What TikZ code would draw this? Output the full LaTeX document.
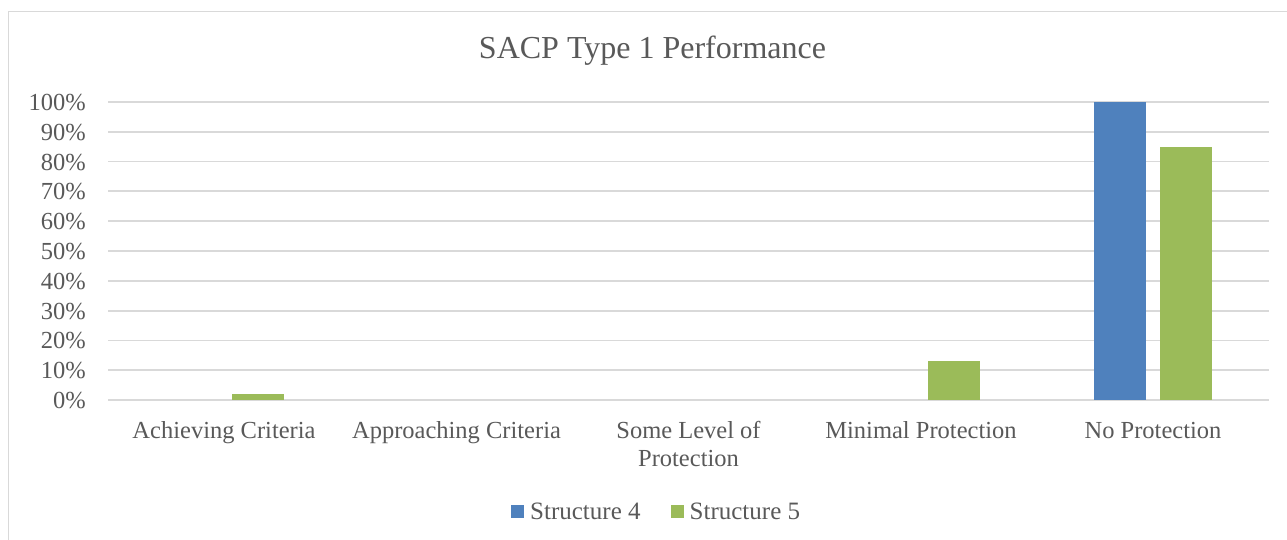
\documentclass[tikz,border=0pt]{standalone}
\usepackage{fontspec}
\setmainfont{Liberation Serif}
\definecolor{txt}{HTML}{595959}
\definecolor{grid}{HTML}{D9D9D9}
\definecolor{sfour}{HTML}{4F81BD}
\definecolor{sfive}{HTML}{9BBB59}
\begin{document}
\begin{tikzpicture}[x=1pt,y=-1pt,
  lbl/.style={text=txt,font=\fontsize{24.5}{28}\selectfont,inner sep=0pt},
  ylbl/.style={lbl,anchor=base east},
  catlbl/.style={lbl,anchor=base,align=center},
  gridline/.style={draw=grid,line width=1.8pt},
  barfour/.style={fill=sfour},
  barfive/.style={fill=sfive}]
\useasboundingbox (0,0) rectangle (1287,540);
% chart frame
\draw[grid,line width=1.5pt] (8.5,540) -- (8.5,11.5) -- (1290,11.5);
% title
\node[lbl,anchor=base,font=\fontsize{32}{36}\selectfont] (title) at (652.5,59) {SACP Type 1 Performance};
% gridlines and y labels
\foreach \i in {0,...,10}{
  \pgfmathsetmacro{\yy}{400-29.8*\i}
  \draw[gridline] (108,\yy) -- (1269,\yy);
  \pgfmathtruncatemacro{\pc}{10*\i}
  \node[ylbl] (y\i) at (86,\yy+8.5) {\pc\%};
}
% bars (value -> height 2.98 px per %)
\fill[barfive] (231.5,400) rectangle (283.5,394.3);
\fill[barfive] (928,400) rectangle (980,361.3);
\fill[barfour] (1094,400) rectangle (1146,102);
\fill[barfive] (1160,400) rectangle (1212,146.7);
% category labels
\node[catlbl] (c1) at (224,438) {Achieving Criteria};
\node[catlbl] (c2) at (456.5,438) {Approaching Criteria};
\node[catlbl] (c3) at (688.5,466) {Some Level of\\Protection};
\node[catlbl] (c4) at (921,438) {Minimal Protection};
\node[catlbl] (c5) at (1153,438) {No Protection};
% legend
\fill[barfour] (511,505) rectangle (523.5,517.5);
\node[lbl,anchor=base west,font=\fontsize{25}{28}\selectfont] (l4) at (530,519) {Structure 4};
\fill[barfive] (671,505) rectangle (683.5,517.5);
\node[lbl,anchor=base west,font=\fontsize{25}{28}\selectfont] (l5) at (689.5,519) {Structure 5};
\end{tikzpicture}
\end{document}
